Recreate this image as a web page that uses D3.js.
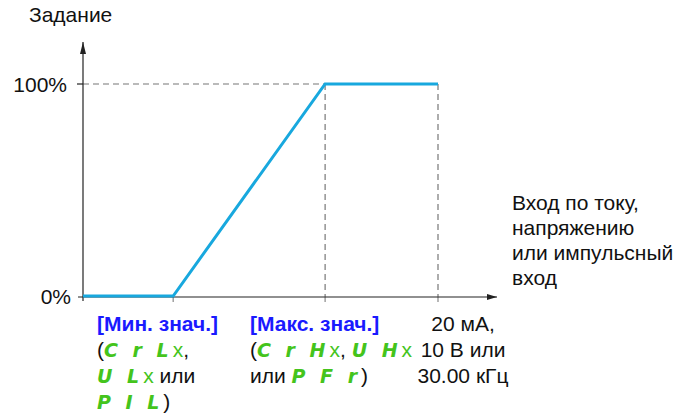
<!DOCTYPE html>
<html><head><meta charset="utf-8">
<script src="https://cdn.jsdelivr.net/npm/d3@7"></script>
<style>
body{margin:0;background:#fff;}
svg text{font-family:"Liberation Sans",Arial,sans-serif;}
.seg{font-family:"DejaVu Sans",sans-serif;font-style:italic;font-weight:bold;fill:#44c41c;}
</style></head>
<body>
<svg id="c" width="678" height="420"></svg>
<script>
// Data
const inputX = [0, 25.4, 68.2, 100];      // input (% of full scale)
const refY   = [0, 0, 100, 100];          // reference (%)
const yTicks = [0, 100];
const yTickLabels = ["0%", "100%"];
const xMarks = [25.4, 68.2, 100];
const yTitle = "Задание";
const xTitle = ["Вход по току,", "напряжению", "или импульсный", "вход"];

const svg = d3.select("#c");
const x = d3.scaleLinear().domain([0, 100]).range([83, 438]);
const y = d3.scaleLinear().domain([0, 100]).range([296, 84]);
const xEnd = 497, yTop = 42;

const defs = svg.append("defs");
defs.append("marker").attr("id","arr").attr("viewBox","0 0 10 10").attr("refX",10).attr("refY",5)
  .attr("markerWidth",10).attr("markerHeight",10).attr("markerUnits","userSpaceOnUse").attr("orient","auto")
  .append("path").attr("d","M0,2 L10,5 L0,8 Z").attr("fill","#222");
defs.append("marker").attr("id","arrv").attr("viewBox","0 0 10 10").attr("refX",10).attr("refY",5)
  .attr("markerWidth",12).attr("markerHeight",12).attr("markerUnits","userSpaceOnUse").attr("orient","auto")
  .append("path").attr("d","M0,2.5 L10,5 L0,7.5 Z").attr("fill","#222");

// dashed guides
svg.append("line").attr("x1",x(0)).attr("x2",x(inputX[2])).attr("y1",y(100)).attr("y2",y(100))
  .attr("stroke","#777").attr("stroke-width",1.2).attr("stroke-dasharray","6,4");
[inputX[2], inputX[3]].forEach(v=>{
  svg.append("line").attr("x1",x(v)).attr("x2",x(v)).attr("y1",y(100)).attr("y2",y(0))
    .attr("stroke","#777").attr("stroke-width",1.2).attr("stroke-dasharray","6,4");
});
// small ticks below x axis
xMarks.forEach(v=>{
  svg.append("line").attr("x1",x(v)).attr("x2",x(v)).attr("y1",y(0)).attr("y2",y(0)+6)
    .attr("stroke","#888").attr("stroke-width",1.2);
});

// axes
svg.append("line").attr("x1",x(0)-5).attr("x2",xEnd).attr("y1",y(0)+1).attr("y2",y(0)+1)
  .attr("stroke","#222").attr("stroke-width",1.2).attr("marker-end","url(#arr)");
svg.append("line").attr("x1",x(0)).attr("x2",x(0)).attr("y1",y(0)+5).attr("y2",yTop)
  .attr("stroke","#222").attr("stroke-width",1.2).attr("marker-end","url(#arrv)");
// 100% tick
svg.append("line").attr("x1",x(0)-6).attr("x2",x(0)).attr("y1",y(100)).attr("y2",y(100))
  .attr("stroke","#222").attr("stroke-width",1.2);

// curve
svg.append("path").datum(d3.range(inputX.length))
  .attr("d", d3.line().x(i=>x(inputX[i])).y(i=>y(refY[i])))
  .attr("fill","none").attr("stroke","#18a8de").attr("stroke-width",3).attr("stroke-linejoin","miter");

const FS = 21;
// y tick labels
yTicks.forEach((t,i)=>{
  svg.append("text").attr("x", i===0?71:67).attr("y", y(t)+8).attr("text-anchor","end")
    .attr("font-size",FS).attr("fill","#111").text(yTickLabels[i]);
});
svg.append("text").attr("x",29).attr("y",22).attr("font-size",FS).attr("fill","#111").text(yTitle);

// x title
xTitle.forEach((s,i)=>{
  svg.append("text").attr("x",512).attr("y",210+i*25).attr("font-size",FS).attr("fill","#111").text(s);
});

// bottom labels
function line(xp, yp, parts, anchor){
  const t = svg.append("text").attr("x",xp).attr("y",yp).attr("font-size",FS).attr("fill","#111");
  if(anchor) t.attr("text-anchor",anchor);
  parts.forEach(p=>{
    const ts = t.append("tspan").text(p[0]);
    if(p[1]==="b") ts.attr("font-weight","bold").attr("fill","#1a1aff");
    if(p[1]==="s") ts.attr("class","seg").attr("font-size",19).attr("letter-spacing",4);
    if(p[1]==="g") ts.attr("fill","#44c41c");
  });
}
line(97,331,[["[Мин. знач.]","b"]]);
line(97,357,[["("],["C r L","s"],["x","g"],[","]]);
line(97,383,[["U L","s"],["x","g"],[" или"]]);
line(97,409,[["P  I L","s"],[")"]]);

line(250,331,[["[Макс. знач.]","b"]]);
line(250,357,[["("],["C r H","s"],["x","g"],[", "],["U H","s"],["x","g"]]);
line(250,383,[["или "],["P F r","s"],[")"]]);

line(463,331,[["20 мА,"]],"middle");
line(463,357,[["10 В или"]],"middle");
line(463,383,[["30.00 кГц"]],"middle");
</script>
</body></html>
